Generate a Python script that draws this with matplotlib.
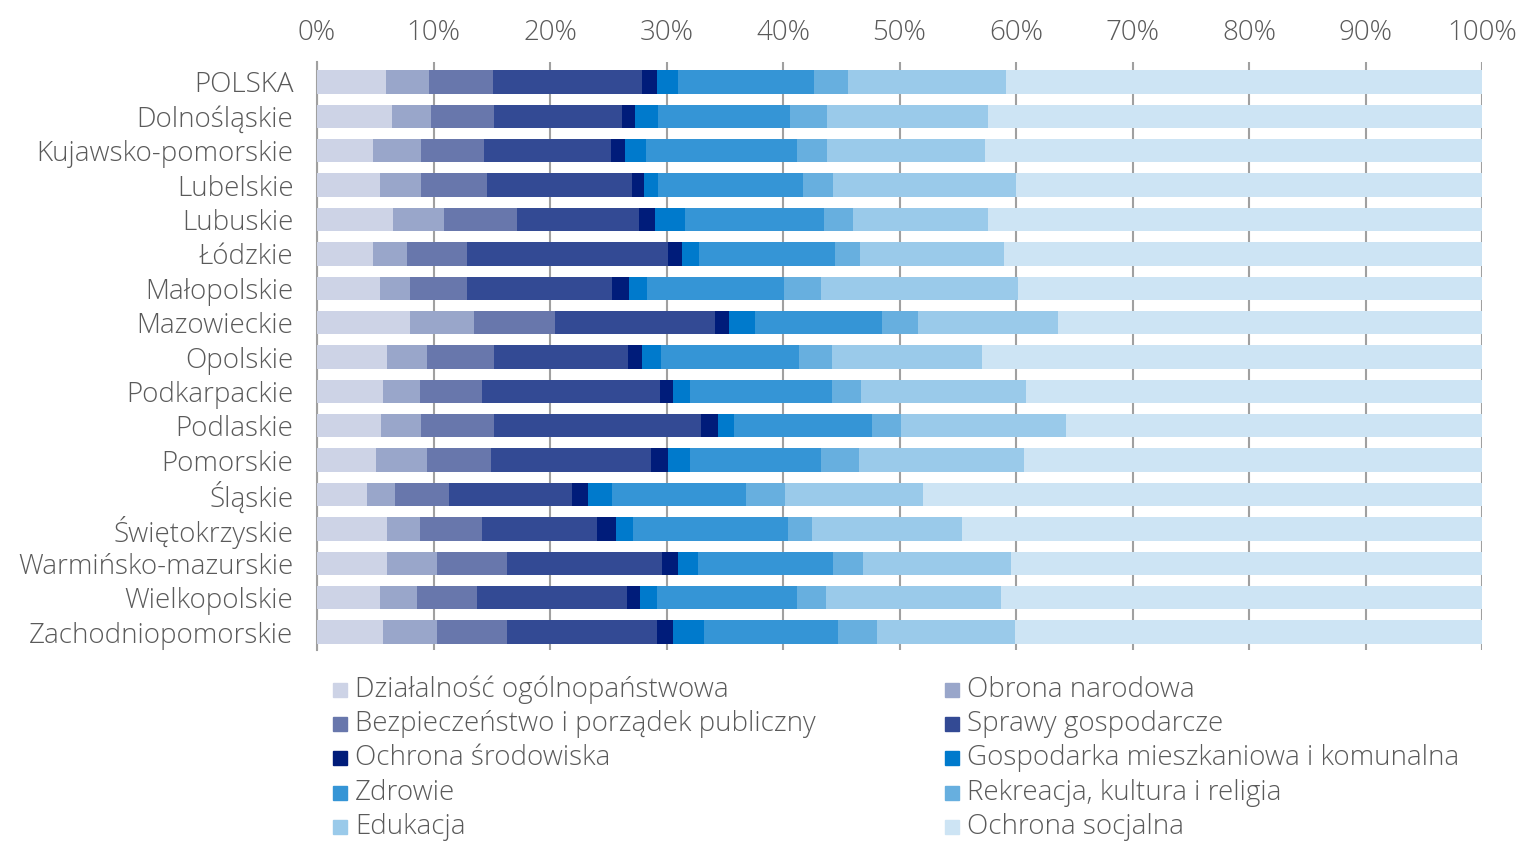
import matplotlib
matplotlib.use("Agg")
import matplotlib.pyplot as plt
from matplotlib.patches import Rectangle
import numpy as np

plt.rcParams['font.family'] = ['Open Sans', 'DejaVu Sans']

regions = ["POLSKA", "Dolnośląskie", "Kujawsko-pomorskie", "Lubelskie", "Lubuskie",
           "Łódzkie", "Małopolskie", "Mazowieckie", "Opolskie", "Podkarpackie",
           "Podlaskie", "Pomorskie", "Śląskie", "Świętokrzyskie",
           "Warmińsko-mazurskie", "Wielkopolskie", "Zachodniopomorskie"]

categories = ["Działalność ogólnopaństwowa", "Obrona narodowa",
              "Bezpieczeństwo i porządek publiczny", "Sprawy gospodarcze",
              "Ochrona środowiska", "Gospodarka mieszkaniowa i komunalna",
              "Zdrowie", "Rekreacja, kultura i religia", "Edukacja",
              "Ochrona socjalna"]

dzialalnosc = [5.9, 6.4, 4.8, 5.4, 6.5, 4.8, 5.4, 8.0, 6.0, 5.7, 5.5, 5.1, 4.3, 6.0, 6.0, 5.4, 5.7]
obrona      = [3.7, 3.4, 4.1, 3.5, 4.4, 2.9, 2.6, 5.5, 3.4, 3.1, 3.4, 4.3, 2.4, 2.8, 4.3, 3.2, 4.6]
bezpiecz    = [5.5, 5.4, 5.4, 5.7, 6.3, 5.2, 4.9, 6.9, 5.8, 5.4, 6.3, 5.5, 4.6, 5.4, 6.0, 5.1, 6.0]
sprawy      = [12.8, 11.0, 10.9, 12.4, 10.4, 17.2, 12.4, 13.8, 11.5, 15.2, 17.8, 13.8, 10.6, 9.8, 13.3, 12.9, 12.9]
srodowisko  = [1.3, 1.1, 1.2, 1.1, 1.4, 1.2, 1.5, 1.2, 1.2, 1.2, 1.4, 1.4, 1.4, 1.7, 1.4, 1.1, 1.4]
gospodarka  = [1.8, 2.0, 1.8, 1.2, 2.6, 1.5, 1.5, 2.2, 1.6, 1.4, 1.4, 1.9, 2.0, 1.4, 1.7, 1.5, 2.6]
zdrowie     = [11.7, 11.3, 13.0, 12.4, 11.9, 11.7, 11.8, 10.9, 11.9, 12.2, 11.8, 11.3, 11.5, 13.3, 11.6, 12.0, 11.5]
rekreacja   = [2.9, 3.2, 2.6, 2.6, 2.5, 2.1, 3.2, 3.1, 2.8, 2.5, 2.5, 3.2, 3.4, 2.1, 2.6, 2.5, 3.4]
edukacja    = [13.5, 13.8, 13.5, 15.7, 11.6, 12.4, 16.9, 12.0, 12.9, 14.2, 14.2, 14.2, 11.8, 12.9, 12.7, 15.0, 11.8]
socjalna    = [40.9, 42.4, 42.7, 40.0, 42.4, 41.0, 39.8, 36.4, 42.9, 39.1, 35.7, 39.3, 48.0, 44.6, 40.4, 41.3, 40.1]

series = [dzialalnosc, obrona, bezpiecz, sprawy, srodowisko, gospodarka,
          zdrowie, rekreacja, edukacja, socjalna]

colors = ["#CDD3E6", "#99A6CA", "#6877AC", "#334A94", "#001C7A",
          "#007ACC", "#3595D6", "#67AFDF", "#9ACAEA", "#CDE4F4"]

xticks = [0, 10, 20, 30, 40, 50, 60, 70, 80, 90, 100]
text_color = "#5A5A5A"
grid_color = "#A0A0A0"
fs = 20

fig = plt.figure(figsize=(15.18, 8.41), dpi=100)
ax = fig.add_axes([317 / 1518, 1 - 650 / 841, (1482 - 317) / 1518, (650 - 62) / 841])

y = np.arange(len(regions))
left = np.zeros(len(regions))
for vals, col, name in zip(series, colors, categories):
    vals = np.array(vals)
    ax.barh(y, vals, left=left, height=0.68, color=col, label=name, zorder=3)
    left += vals

ax.set_xlim(0, 100)
ax.set_ylim(len(regions) - 0.48, -0.58)
ax.set_yticks(y)
ax.set_yticklabels(regions, fontsize=fs, color=text_color, fontweight='light')
ax.set_xticks(xticks)
ax.set_xticklabels([f"{t}%" for t in xticks], fontsize=fs, color=text_color, fontweight='light')
ax.xaxis.tick_top()
ax.tick_params(axis='y', length=0, pad=17)
ax.tick_params(axis='x', length=0, pad=11)
ax.grid(axis='x', color=grid_color, linewidth=1.5, zorder=0)
for s in ['top', 'right', 'bottom']:
    ax.spines[s].set_visible(False)
ax.spines['left'].set_color(grid_color)
ax.spines['left'].set_linewidth(1.5)

# legend (two columns, row-major order)
col_x = [333 / 1518, 945 / 1518]
row_y0 = 690
row_dy = 34.2
for i, (name, col) in enumerate(zip(categories, colors)):
    c = i % 2
    r = i // 2
    yc = row_y0 + r * row_dy
    fig.patches.append(Rectangle((col_x[c], 1 - (yc + 7) / 841), 14 / 1518, 14 / 841,
                                 transform=fig.transFigure, color=col, figure=fig))
    fig.text(col_x[c] + 22 / 1518, 1 - yc / 841, name, fontsize=fs,
             color=text_color, va='center', ha='left', fontweight='light')

fig.savefig("out.png", dpi=100)
